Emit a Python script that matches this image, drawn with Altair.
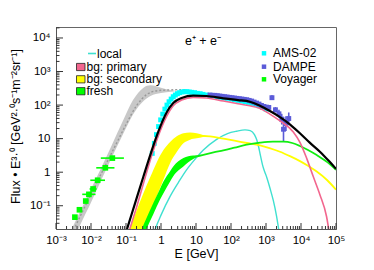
import json
import altair as alt
import numpy as np
import pandas as pd

# ---------------- data (log10 units) ----------------
X_TICKS = [1e-3, 1e-2, 1e-1, 1, 10, 1e2, 1e3, 1e4, 1e5]
X_LABELS = ['10⁻³', '10⁻²', '10⁻¹', '1', '10', '10²', '10³', '10⁴', '10⁵']
Y_TICKS = [0.1, 1, 10, 100, 1000, 10000]
Y_LABELS = ['10⁻¹', '1', '10', '10²', '10³', '10⁴']

GRAY_LOGE = [-2.6, -2.3, -2.0, -1.7, -1.4, -1.1, -0.8, -0.5, -0.3, 0.0, 0.3, 0.5]
GRAY_UP   = [-1.80, -1.15, -0.50, 0.15, 0.82, 1.50, 2.15, 2.52, 2.59, 2.52, 2.44, 2.42]
GRAY_LO   = [-2.30, -1.55, -0.90, -0.22, 0.45, 1.10, 1.72, 2.12, 2.27, 2.36, 2.40, 2.42]

DOT_LOGE = [-2.45, -2.2, -1.9, -1.6, -1.3, -1.0, -0.7, -0.4, -0.1, 0.2, 0.5, 0.7]
DOT_LOGF = [-1.62, -1.08, -0.45, 0.18, 0.80, 1.42, 1.98, 2.32, 2.43, 2.45, 2.46, 2.46]

YEL_BAND_LOGE = [-0.89, -0.7, -0.5, -0.3, -0.12, 0.07, 0.26, 0.45, 0.64, 0.83, 1.02, 1.2, 1.4]
YEL_BAND_UP   = [-1.69, -1.15, -0.62, -0.13, 0.30, 0.66, 0.90, 1.07, 1.16, 1.18, 1.16, 1.11, 1.07]
YEL_BAND_LO   = [-2.70, -2.20, -1.69, -1.15, -0.72, -0.22, 0.27, 0.60, 0.86, 0.97, 1.01, 1.05, 1.07]
YEL_LINE_LOGE = [0.83, 1.02, 1.2, 1.4, 1.78, 2.1, 2.45, 2.83, 3.1, 3.4, 3.7, 3.97, 4.2, 4.45, 4.75, 5.0]
YEL_LINE_LOGF = [1.08, 1.09, 1.08, 1.07, 1.00, 0.94, 0.87, 0.80, 0.72, 0.61, 0.47, 0.33, 0.19, 0.02, -0.24, -0.52]

GRN_BAND_LOGE = [-0.55, -0.41, -0.22, -0.03, 0.07, 0.26, 0.35, 0.64, 0.92, 1.1]
GRN_BAND_UP   = [-1.69, -1.36, -0.92, -0.50, -0.28, 0.03, 0.17, 0.42, 0.50, 0.50]
GRN_BAND_LO   = [-2.10, -1.69, -1.25, -0.82, -0.63, -0.28, -0.12, 0.17, 0.39, 0.48]
GRN_LINE_LOGE = [0.92, 1.1, 1.5, 1.78, 2.1, 2.45, 2.83, 3.2, 3.5, 3.75, 3.97, 4.2, 4.45, 4.75, 5.0]
GRN_LINE_LOGF = [0.45, 0.49, 0.59, 0.65, 0.73, 0.82, 0.88, 0.91, 0.91, 0.87, 0.78, 0.66, 0.51, 0.30, 0.07]

CYAN_LOGE = [-0.20, -0.17, 0.0, 0.26, 0.5, 0.73, 1.0, 1.21, 1.59, 1.9, 2.16, 2.4, 2.55, 2.67, 2.74,
             2.79, 2.84, 2.9, 2.96, 3.02, 3.12, 3.21, 3.3, 3.37]
CYAN_LOGF = [-1.80, -1.71, -1.28, -0.72, -0.30, 0.07, 0.42, 0.66, 0.98, 1.15, 1.22, 1.26, 1.24, 1.12, 0.95,
             0.75, 0.50, 0.22, 0.02, -0.15, -0.50, -0.85, -1.30, -1.75]

PINK_LOGE = [-0.92, -0.89, -0.7, -0.5, -0.27, -0.08, 0.16, 0.35, 0.59, 0.92, 1.3, 1.78, 2.2, 2.54, 2.83,
             3.1, 3.4, 3.78, 3.97, 4.16, 4.35, 4.54, 4.73, 4.80]
PINK_LOGF = [-1.79, -1.69, -1.05, -0.33, 0.48, 1.07, 1.66, 1.98, 2.15, 2.23, 2.21, 2.12, 2.04, 1.98, 1.90,
             1.74, 1.53, 1.20, 0.89, 0.42, -0.13, -0.67, -1.32, -1.75]

BLACK_LOGE = [-1.0, -0.97, -0.74, -0.5, -0.27, -0.08, 0.16, 0.35, 0.59, 0.92, 1.3, 1.78, 2.2, 2.54, 2.83,
              3.1, 3.4, 3.69, 3.97, 4.25, 4.54, 4.8, 5.0]
BLACK_LOGF = [-1.79, -1.69, -0.92, -0.12, 0.63, 1.20, 1.78, 2.06, 2.21, 2.28, 2.27, 2.20, 2.15, 2.10, 1.98,
              1.83, 1.64, 1.42, 1.16, 0.88, 0.61, 0.33, 0.10]

AMS_LOGE = [-0.25, -0.19, -0.13, -0.07, -0.01, 0.05, 0.11, 0.17, 0.23, 0.29, 0.35, 0.41, 0.47, 0.53, 0.60,
            0.67, 0.74, 0.81, 0.88, 0.96, 1.04, 1.12, 1.20, 1.30, 1.40, 1.50, 1.60, 1.70, 1.80, 1.90,
            2.00, 2.10, 2.20, 2.30, 2.40, 2.50, 2.60, 2.70, 2.80, 2.90, 3.00]
AMS_LOGF = [0.56, 0.86, 1.12, 1.36, 1.56, 1.73, 1.88, 2.00, 2.10, 2.18, 2.25, 2.30, 2.34, 2.37, 2.39,
            2.40, 2.40, 2.39, 2.38, 2.37, 2.35, 2.34, 2.32, 2.30, 2.29, 2.27, 2.25, 2.23, 2.21, 2.20,
            2.18, 2.16, 2.14, 2.12, 2.10, 2.08, 2.05, 2.02, 1.98, 1.93, 1.88]

DAMPE_LOGE = [1.40, 1.47, 1.54, 1.61, 1.68, 1.75, 1.82, 1.89, 1.96, 2.03, 2.10, 2.17, 2.24, 2.31, 2.38,
              2.45, 2.52, 2.59, 2.66, 2.73, 2.80, 2.87, 2.94, 3.01, 3.08, 3.17, 3.27, 3.37, 3.45, 3.50,
              3.57, 3.65]
DAMPE_LOGF = [2.30, 2.29, 2.29, 2.28, 2.27, 2.26, 2.25, 2.24, 2.23, 2.22, 2.21, 2.20, 2.19, 2.18, 2.17,
              2.16, 2.14, 2.12, 2.09, 2.06, 2.03, 1.99, 1.96, 1.94, 1.93, 2.22, 1.86, 1.74, 1.58, 1.28,
              1.45, 1.60]
DAMPE_ERR = [0.03, 0.03, 0.03, 0.03, 0.03, 0.03, 0.03, 0.03, 0.03, 0.03, 0.03, 0.03, 0.03, 0.03, 0.03,
             0.03, 0.03, 0.04, 0.04, 0.04, 0.04, 0.04, 0.05, 0.05, 0.05, 0.07, 0.08, 0.12, 0.16, 0.37,
             0.22, 0.18]

VOY_LOGE = [-2.46, -2.33, -2.15, -2.06, -1.94, -1.81, -1.59, -1.39]
VOY_LOGF = [-1.34, -1.12, -0.86, -0.66, -0.50, -0.24, 0.13, 0.42]
VOY_HALF = [0.05, 0.06, 0.07, 0.19, 0.10, 0.21, 0.26, 0.33]

LEFT_LEGEND = ['local', 'bg: primary', 'bg: secondary', 'fresh']
RIGHT_LEGEND = ['AMS-02', 'DAMPE', 'Voyager']
TITLE = 'e⁺ + e⁻'

# ---------------- styling ----------------
W, H = 280, 202
FONT = 'Liberation Sans'
XMIN, XMAX = 1e-3, 1e5
YMIN, YMAX = 10 ** -1.693, 10 ** 4.327

C_GRAY = '#c8c8c8'
C_DOT = '#999999'
C_YEL = '#ffff00'
C_GRN = '#00ff00'
C_CYAN = '#3fe0d0'
C_PINK = '#f2668e'
C_AMS = '#00ffff'
C_DAMPE = '#5b5bd8'

xscale = alt.Scale(type='log', domain=[XMIN, XMAX], nice=False)
yscale = alt.Scale(type='log', domain=[YMIN, YMAX], nice=False)

xlab = json.dumps(X_LABELS, ensure_ascii=False)
ylab = json.dumps(Y_LABELS, ensure_ascii=False)

xaxis = alt.Axis(values=X_TICKS, labelExpr=f"{xlab}[round(log(datum.value)/LN10)+3]",
                 ticks=False, grid=False, title='E [GeV]', labelPadding=5, titlePadding=2,
                 labelFontSize=11.5, titleFontSize=12.5, labelFlush=False, labelOverlap=False)
yaxis = alt.Axis(values=Y_TICKS, labelExpr=f"{ylab}[round(log(datum.value)/LN10)+1]",
                 ticks=False, grid=False, title='Flux • E³·⁰ [GeV²·⁰s⁻¹m⁻²sr⁻¹]',
                 labelPadding=6, labelFontSize=11.5, titleFontSize=12.5,
                 titleX=-41, titleY=99, titleAlign='center', titleBaseline='middle',
                 labelFlush=False, labelOverlap=False)


def X(field):
    return alt.X(f'{field}:Q', scale=xscale, axis=xaxis)


def Y(field):
    return alt.Y(f'{field}:Q', scale=yscale, axis=yaxis)


def curve(loge, logf):
    return pd.DataFrame({'E': 10 ** np.array(loge), 'F': 10 ** np.array(logf)})


def band(loge, up, lo):
    return pd.DataFrame({'E': 10 ** np.array(loge), 'U': 10 ** np.array(up), 'L': 10 ** np.array(lo)})


def line(df, color, width, dash=None):
    kw = dict(color=color, strokeWidth=width, clip=True, interpolate='monotone')
    if dash:
        kw['strokeDash'] = dash
    return alt.Chart(df).mark_line(**kw).encode(x=X('E'), y=Y('F'))


def area(df, color):
    return alt.Chart(df).mark_area(color=color, opacity=1, clip=True, interpolate='monotone').encode(
        x=X('E'), y=Y('U'), y2='L:Q')


layers = []
layers.append(area(band(GRAY_LOGE, GRAY_UP, GRAY_LO), C_GRAY))
layers.append(line(curve(DOT_LOGE, DOT_LOGF), C_DOT, 1.4, [2, 2]))
layers.append(area(band(YEL_BAND_LOGE, YEL_BAND_UP, YEL_BAND_LO), C_YEL))
layers.append(area(band(GRN_BAND_LOGE, GRN_BAND_UP, GRN_BAND_LO), C_GRN))

# data points
ams = curve(AMS_LOGE, AMS_LOGF)
layers.append(alt.Chart(ams).mark_square(color=C_AMS, size=24, opacity=1, clip=True).encode(x=X('E'), y=Y('F')))

dampe = pd.DataFrame({
    'E': 10 ** np.array(DAMPE_LOGE),
    'F': 10 ** np.array(DAMPE_LOGF),
    'Lo': 10 ** (np.array(DAMPE_LOGF) - np.array(DAMPE_ERR)),
    'Hi': 10 ** (np.array(DAMPE_LOGF) + np.array(DAMPE_ERR)),
})
layers.append(alt.Chart(dampe).mark_rule(color=C_DAMPE, strokeWidth=1.6, clip=True).encode(
    x=X('E'), y=Y('Lo'), y2='Hi:Q'))
layers.append(alt.Chart(dampe).mark_square(color=C_DAMPE, size=24, opacity=1, clip=True).encode(
    x=X('E'), y=Y('F')))

voy = pd.DataFrame({
    'E': 10 ** np.array(VOY_LOGE),
    'F': 10 ** np.array(VOY_LOGF),
    'Elo': 10 ** (np.array(VOY_LOGE) - np.array(VOY_HALF)),
    'Ehi': 10 ** (np.array(VOY_LOGE) + np.array(VOY_HALF)),
})
layers.append(alt.Chart(voy).mark_rule(color=C_GRN, strokeWidth=1.6, clip=True).encode(
    x=X('Elo'), x2='Ehi:Q', y=Y('F')))
layers.append(alt.Chart(voy).mark_square(color=C_GRN, size=32, opacity=1, clip=True).encode(
    x=X('E'), y=Y('F')))

# model lines
layers.append(line(curve(CYAN_LOGE, CYAN_LOGF), C_CYAN, 1.4))
layers.append(line(curve(YEL_LINE_LOGE, YEL_LINE_LOGF), C_YEL, 1.8))
layers.append(line(curve(GRN_LINE_LOGE, GRN_LINE_LOGF), '#11ee11', 1.8))
layers.append(line(curve(PINK_LOGE, PINK_LOGF), C_PINK, 1.6))
layers.append(line(curve(BLACK_LOGE, BLACK_LOGF), 'black', 2.2))

# ROOT-style inward ticks
xmaj = pd.DataFrame({'v': X_TICKS})
xmin_ = pd.DataFrame({'v': [m * 10.0 ** n for n in range(-3, 5) for m in range(2, 10)]})
ymaj = pd.DataFrame({'v': Y_TICKS})
ymin_ = pd.DataFrame({'v': [m * 10.0 ** n for n in range(-2, 5) for m in range(2, 10)
                            if YMIN < m * 10.0 ** n < YMAX]})
TICK_C = '#333333'
layers.append(alt.Chart(xmaj).mark_rule(color=TICK_C, strokeWidth=1).encode(
    x=X('v'), y=alt.value(H), y2=alt.value(H - 6)))
layers.append(alt.Chart(xmin_).mark_rule(color=TICK_C, strokeWidth=1).encode(
    x=X('v'), y=alt.value(H), y2=alt.value(H - 3)))
layers.append(alt.Chart(ymaj).mark_rule(color=TICK_C, strokeWidth=1).encode(
    y=Y('v'), x=alt.value(0), x2=alt.value(7)))
layers.append(alt.Chart(ymin_).mark_rule(color=TICK_C, strokeWidth=1).encode(
    y=Y('v'), x=alt.value(0), x2=alt.value(3.5)))

# legends (layout positions in pixels)
ROW_L = [26.5, 40.0, 52.3, 64.2]
layers.append(alt.Chart(pd.DataFrame({'a': [0]})).mark_rule(color=C_CYAN, strokeWidth=1.6).encode(
    x=alt.value(32), x2=alt.value(40), y=alt.value(ROW_L[0])))
box_df = pd.DataFrame({'y': ROW_L[1:], 'c': [C_PINK, C_YEL, C_GRN]})
layers.append(alt.Chart(box_df).mark_rect(stroke='#222', strokeWidth=0.8).encode(
    x=alt.value(20.5), x2=alt.value(29),
    y=alt.Y('y0:Q', scale=None), y2='y1:Q',
    color=alt.Color('c:N', scale=None)).transform_calculate(y0='datum.y-3.6', y1='datum.y+3.6'))
txt_l = pd.DataFrame({'t': LEFT_LEGEND, 'y': ROW_L, 'x': [41, 30.5, 30.5, 30.5]})
layers.append(alt.Chart(txt_l).mark_text(align='left', baseline='middle', fontSize=12, font=FONT,
                                         color='black').encode(
    text='t:N', x=alt.X('x:Q', scale=None), y=alt.Y('y:Q', scale=None)))

ROW_R = [26.3, 39.7, 52.3]
mk_r = pd.DataFrame({'y': ROW_R, 'c': [C_AMS, C_DAMPE, C_GRN]})
layers.append(alt.Chart(mk_r).mark_square(size=20, opacity=1).encode(
    x=alt.value(208), y=alt.Y('y:Q', scale=None), color=alt.Color('c:N', scale=None)))
txt_r = pd.DataFrame({'t': RIGHT_LEGEND, 'y': ROW_R})
layers.append(alt.Chart(txt_r).mark_text(align='left', baseline='middle', fontSize=12, font=FONT,
                                         color='black').encode(
    text='t:N', x=alt.value(217), y=alt.Y('y:Q', scale=None)))

layers.append(alt.Chart(pd.DataFrame({'t': [TITLE]})).mark_text(
    align='center', baseline='middle', fontSize=12.5, font=FONT, color='black').encode(
    text='t:N', x=alt.value(147), y=alt.value(14)))

chart = alt.layer(*layers).properties(
    width=W, height=H,
    padding={'left': 48, 'top': 19, 'right': 18, 'bottom': 33},
    autosize=alt.AutoSizeParams(type='none'),
    background='white',
).configure_view(stroke='#666666', strokeWidth=1).configure_axis(
    domainColor='#555555', labelFont=FONT, titleFont=FONT, labelColor='black', titleColor='black',
    titleFontWeight='normal')

chart.save('out.html', embed_options={'renderer': 'svg', 'actions': False})
